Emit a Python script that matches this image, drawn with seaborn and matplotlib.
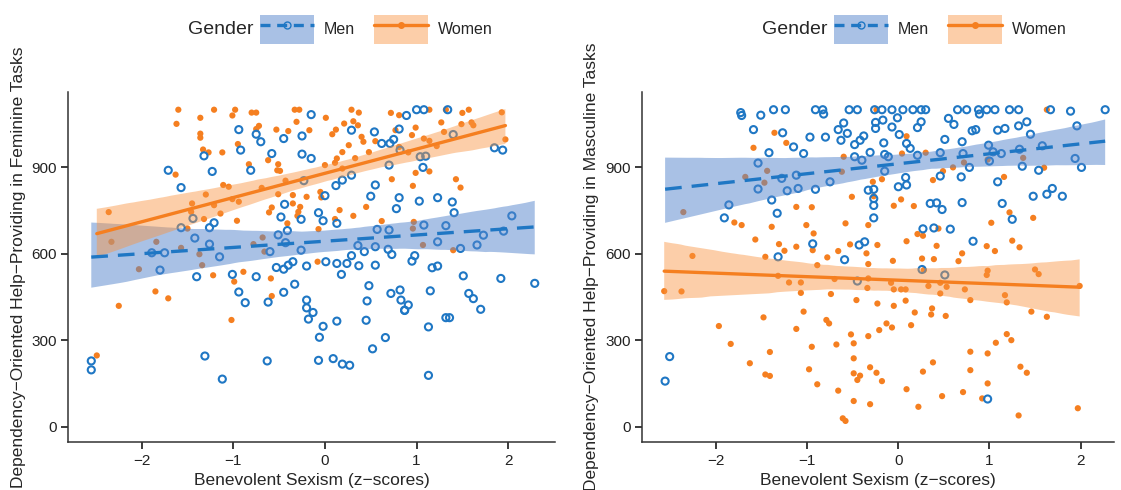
import numpy as np
import pandas as pd
import matplotlib
matplotlib.use("Agg")
import matplotlib.pyplot as plt
import seaborn as sns
from matplotlib.patches import Patch
from matplotlib.lines import Line2D

# ---------------- data ----------------
fem_women = [(-1.6,1100),(-1.62,1051),(-1.21,1100),(-1.36,1072),(-1.36,1017),(-1.36,1003),(-1.33,962),(-1.27,952),
(-1.12,952),(-1.01,1080),(-0.98,1100),(-0.80,1090),(-0.75,1090),(-0.72,1044),(-0.75,1033),(-0.95,981),(-0.83,911),
(-0.62,925),(-0.53,1031),(-0.51,911),(-0.52,890),(-0.49,888),(-0.40,1026),(-0.33,1100),(-0.28,1100),(-0.31,1058),
(-0.17,1029),(0.01,1072),(0.00,908),(0.12,1031),(0.08,1015),(0.21,1052),(0.29,1100),(0.37,1090),(0.31,1060),
(0.36,1046),(0.40,1006),(0.42,989),(0.26,977),(0.19,953),(0.13,931),(0.11,916),(0.19,896),(0.33,932),(0.48,953),
(0.55,991),(0.72,1089),(0.81,1081),(0.77,1029),(0.81,971),(0.95,1012),(0.99,1038),(0.91,952),(0.99,881),(1.14,1100),
(1.08,1000),(1.14,992),(1.22,974),(1.14,886),(1.27,1056),(1.30,1023),(1.32,1100),(1.50,1089),(1.57,1100),(1.49,1050),
(1.60,1056),(1.62,1046),(1.43,859),(1.48,830),(1.93,1091),(1.97,997),(0.73,859),(0.96,836),(0.97,711),(0.96,688),
(1.07,631),(1.40,613),(0.62,714),(0.45,763),(0.31,732),(0.16,752),(0.11,721),(-0.07,686),(-0.08,573),(-0.05,815),
(-0.04,796),(-0.2,798),(-0.27,763),(-0.29,746),(-0.30,732),(-0.35,775),(-0.35,804),(-0.41,706),(-0.43,854),(-0.51,807),
(-0.58,761),(-0.61,744),(-0.69,829),(-0.66,608),(-0.78,634),(-0.89,538),(-0.99,504),(-0.59,515),(-0.58,454),(-1.02,371),
(-0.96,715),(-0.94,781),(-1.01,790),(-1.05,833),(-1.11,839),(-1.14,740),(-1.21,769),(-1.30,806),(-1.32,721),(-1.45,775),
(-1.46,746),(-1.50,688),(-1.57,621),(-1.63,875),(-1.34,561),(-1.37,599),(-1.22,526),(-1.84,642),(-2.03,547),(-1.85,470),
(-1.71,446),(-2.25,420),(-2.33,642),(-2.36,745),(-2.49,248),(-0.68,657)]

fem_men = [(-2.55,229),(-2.55,198),(-1.31,246),(-1.12,166),(-0.63,229),(-0.07,231),(0.09,237),(0.19,218),(0.27,214),
(0.52,271),(0.66,310),(1.13,179),(-0.02,349),(-0.06,311),(0.13,367),(0.45,370),(1.13,347),(1.32,379),(1.36,379),
(1.70,408),(1.62,445),(1.57,463),(1.51,524),(1.92,515),(2.29,498),(1.15,472),(0.91,423),(0.87,405),(0.83,440),
(0.72,463),(0.46,437),(0.48,490),(0.18,529),(-0.2,440),(-0.2,413),(-0.18,374),(-0.13,397),(-0.45,467),(-0.33,495),
(-0.62,433),(-0.87,431),(-0.94,468),(-1.01,529),(-0.75,521),(-1.4,521),(-1.8,544),(-1.89,604),(-1.75,604),(-1.57,691),
(-1.42,655),(-1.26,691),(-1.21,708),(-1.26,634),(-1.15,590),(-1.44,723),(-1.57,830),(-1.71,890),(-1.32,940),(-1.23,886),
(-0.94,1031),(-0.92,960),(-0.81,890),(-0.75,1015),(-0.70,989),(-0.58,948),(-0.45,1000),(-0.25,1009),(-0.15,1083),
(-0.25,946),(-0.15,931),(-0.23,854),(-0.44,772),(-0.48,728),(-0.41,681),(-0.51,666),(-0.43,639),(-0.60,608),(-0.53,553),
(-0.45,547),(-0.40,561),(-0.35,573),(-0.2,558),(-0.26,613),(-0.26,720),(-0.07,743),(-0.02,715),(0.0,802),(0.13,706),
(0.13,567),(0.01,573),(0.24,567),(0.37,559),(0.29,594),(0.36,629),(0.43,608),(0.55,625),(0.55,561),(0.57,685),(0.5,800),
(0.55,839),(0.29,873),(0.19,856),(0.12,837),(0.29,1029),(0.54,1023),(0.62,983),(0.71,983),(0.75,997),(0.81,1033),
(0.89,1080),(0.82,960),(1.0,1100),(1.08,1100),(1.34,1100),(1.4,1014),(1.04,937),(1.1,939),(1.07,900),(0.70,908),
(0.81,795),(0.78,757),(1.03,783),(1.23,795),(1.39,780),(1.41,743),(1.08,700),(1.32,698),(1.23,642),(1.48,619),
(1.66,631),(1.73,665),(1.95,679),(2.04,732),(1.85,968),(1.94,960),(0.70,683),(0.69,616),(0.73,598),(0.95,575),
(0.98,594),(1.17,552),(1.23,558),(0.82,475),(0.87,404)]

mas_men = [(-2.56,159),(-2.51,244),(-1.91,725),(-1.86,770),(-1.73,1090),(-1.72,1080),(-1.59,1031),(-1.51,1081),
(-1.37,1100),(-1.24,1100),(-1.27,1020),(-1.42,951),(-1.54,915),(-1.54,825),(-1.39,787),(-1.33,741),(-1.28,862),
(-1.22,819),(-1.12,873),(-1.10,827),(-1.15,971),(-1.04,948),(-0.97,1005),(-0.91,824),(-0.94,635),(-1.32,590),
(-0.91,1100),(-0.83,1100),(-0.82,1085),(-0.80,1005),(-0.75,850),(-0.66,1031),(-0.63,994),(-0.60,1054),(-0.56,1018),
(-0.54,1100),(-0.45,1100),(-0.48,979),(-0.42,994),(-0.38,1009),(-0.48,937),(-0.40,925),(-0.31,952),(-0.26,1100),
(-0.18,1100),(-0.25,1056),(-0.17,1064),(-0.25,1035),(-0.16,985),(-0.15,945),(-0.11,937),(-0.15,887),(-0.33,821),
(-0.27,824),(-0.27,792),(-0.27,768),(-0.27,725),(-0.37,642),(-0.43,631),(-0.59,580),(-0.07,1100),(0.05,1100),
(-0.01,1072),(-0.07,1040),(0.01,1014),(0.09,983),(0.13,966),(0.16,1100),(0.25,1100),(0.30,1100),(0.25,1058),
(0.21,1038),(0.21,942),(0.0,833),(0.09,839),(0.08,865),(0.35,775),(0.42,777),(0.48,754),(0.46,870),(0.46,951),
(0.27,687),(0.39,690),(0.57,686),(0.82,644),(0.70,778),(0.69,867),(0.78,900),(0.71,948),(0.70,989),(0.51,997),
(0.55,1070),(0.61,1049),(0.65,1100),(0.75,1100),(0.88,1100),(0.81,1027),(0.85,1031),(0.89,1085),(0.97,1100),
(1.06,1100),(1.09,1029),(0.99,977),(1.04,954),(1.00,922),(1.13,948),(1.09,850),(1.14,775),(1.25,720),(1.17,1035),
(1.22,1100),(1.32,1100),(1.32,1044),(1.41,1058),(1.33,963),(1.45,1015),(1.36,904),(1.54,890),(1.58,975),(1.48,800),
(1.63,807),(1.69,827),(1.80,800),(1.67,1100),(1.89,1095),(1.96,1044),(1.94,931),(2.01,900),(2.27,1100),(0.98,97),
(0.51,527),(-0.45,506),(0.26,546)]

mas_women = [(-2.57,471),(-2.38,470),(-2.36,745),(-2.26,593),(-1.97,350),(-1.84,288),(-1.80,709),(-1.72,700),
(-1.63,221),(-1.59,968),(-1.57,650),(-1.48,380),(-1.46,590),(-1.46,182),(-1.41,177),(-1.41,260),(-1.39,694),
(-1.36,1020),(-1.32,524),(-1.31,634),(-1.25,611),(-1.23,985),(-1.20,501),(-1.12,625),(-1.12,340),(-1.12,763),
(-1.07,501),(-1.07,465),(-1.04,400),(-1.01,700),(-0.98,200),(-0.95,762),(-0.93,671),(-0.94,613),(-0.95,278),
(-0.89,561),(-0.89,148),(-0.79,371),(-0.78,588),(-0.76,359),(-0.74,461),(-0.70,513),(-0.68,286),(-0.66,610),
(-0.66,126),(-0.61,30),(-0.58,21),(-0.58,706),(-0.53,633),(-0.51,798),(-0.52,321),(-0.49,238),(-0.49,290),
(-0.49,186),(-0.49,90),(-0.46,440),(-0.45,163),(-0.42,178),(-0.35,602),(-0.33,565),(-0.33,515),(-0.34,482),
(-0.33,315),(-0.33,700),(-0.31,79),(-0.31,207),(-0.28,850),(-0.27,800),(-0.24,188),(-0.23,631),(-0.23,428),
(-0.21,336),(-0.18,159),(-0.18,859),(-0.13,359),(-0.08,500),(-0.07,345),(-0.05,477),(-0.06,576),(-0.05,767),
(-0.05,420),(0.03,789),(0.03,477),(0.08,477),(0.08,438),(0.09,644),(0.09,131),(0.14,353),(0.18,397),(0.17,766),
(0.21,669),(0.22,70),(0.26,584),(0.27,663),(0.27,192),(0.28,544),(0.30,951),(0.33,489),(0.37,411),(0.36,390),
(0.38,224),(0.39,582),(0.38,856),(0.42,628),(0.44,688),(0.46,500),(0.46,463),(0.48,107),(0.49,887),(0.52,385),
(0.53,486),(0.60,900),(0.66,575),(0.70,602),(0.71,121),(0.73,477),(0.72,917),(0.79,440),(0.79,197),(0.79,261),
(0.92,99),(0.97,627),(0.97,527),(0.98,542),(0.98,255),(0.98,151),(0.98,927),(1.02,708),(1.06,610),(1.07,292),
(1.16,867),(1.17,457),(1.19,432),(1.19,322),(1.22,744),(1.24,301),(1.25,646),(1.32,40),(1.33,623),(1.34,209),
(1.37,933),(1.41,188),(1.46,400),(1.48,725),(1.50,546),(1.54,530),(1.60,899),(1.63,382),(1.63,1100),(1.97,65),
(1.99,489),(-1.68,867),(-1.47,847),(-1.44,888),(-0.60,937),(-0.62,885),(0.04,948),(0.09,1008),(-0.24,1100)]

genders = ["Men", "Women"]
y_ticks = [0, 300, 600, 900]
x_ticks = [-2, -1, 0, 1, 2]
panels = [
    ("Dependency\u2212Oriented Help\u2212Providing in Feminine Tasks", fem_men, fem_women),
    ("Dependency\u2212Oriented Help\u2212Providing in Masculine Tasks", mas_men, mas_women),
]

BLUE = "#1f77c4"
ORANGE = "#f57f20"
BAND_BLUE = (0.33, 0.52, 0.80, 0.50)
BAND_OR = (0.98, 0.58, 0.25, 0.45)

sns.set_theme(style="ticks")
plt.rcParams["font.family"] = ["Liberation Sans", "DejaVu Sans"]

fig = plt.figure(figsize=(11.21, 4.9), dpi=100)
positions = [[0.061, 0.098, 0.434, 0.714], [0.573, 0.098, 0.421, 0.714]]
xlims = [(-2.80, 2.51), (-2.81, 2.37)]

for i, (ylab, men, women) in enumerate(panels):
    ax = fig.add_axes(positions[i])
    dm = pd.DataFrame(men, columns=["x", "y"])
    dw = pd.DataFrame(women, columns=["x", "y"])
    ax.scatter(dw.x, dw.y, s=20, color=ORANGE, edgecolor="none", zorder=2)
    ax.scatter(dm.x, dm.y, s=26, facecolor="none", edgecolor=BLUE, linewidth=1.5, zorder=2)
    for d, col, band, ls in [(dm, BLUE, BAND_BLUE, (0, (5, 3))), (dw, ORANGE, BAND_OR, "-")]:
        n0 = len(ax.collections)
        sns.regplot(data=d, x="x", y="y", ax=ax, scatter=False, color=col, seed=1,
                    line_kws=dict(lw=2.4, ls=ls, zorder=4))
        for c in ax.collections[n0:]:
            c.set_facecolor(band); c.set_edgecolor("none"); c.set_alpha(None); c.set_zorder(3)
    ax.set_xlim(*xlims[i])
    ax.set_ylim(-52, 1161)
    ax.set_xticks(x_ticks)
    ax.set_xticklabels([("\u2212" + str(-t)) if t < 0 else str(t) for t in x_ticks])
    ax.set_yticks(y_ticks)
    ax.tick_params(labelsize=11, colors="#222222", length=5)
    ax.set_xlabel("Benevolent Sexism (z\u2212scores)", fontsize=12.5)
    ax.set_ylabel(ylab, fontsize=12.5)
    sns.despine(ax=ax)
    for s in ("left", "bottom"):
        ax.spines[s].set_linewidth(1.1)
        ax.spines[s].set_color("#333333")

    handles = [
        (Patch(facecolor=BAND_BLUE, edgecolor="none"),
         Line2D([], [], color=BLUE, lw=2.4, ls=(0, (3, 2)), marker="o", markerfacecolor="none",
                markeredgecolor=BLUE, markersize=5)),
        (Patch(facecolor=BAND_OR, edgecolor="none"),
         Line2D([], [], color=ORANGE, lw=2.4, marker="o", markerfacecolor=ORANGE,
                markeredgecolor=ORANGE, markersize=4)),
    ]
    x0 = positions[i][0]
    fig.text(x0 + 0.107, 0.94, "Gender", fontsize=14, va="center", ha="left")
    fig.legend(handles, genders, loc="center left", bbox_to_anchor=(x0 + 0.158, 0.94),
               ncol=2, frameon=False, fontsize=11.5, handlelength=3.4, handleheight=2.4,
               columnspacing=1.2, handletextpad=0.6)

fig.savefig("out.png", dpi=100)
